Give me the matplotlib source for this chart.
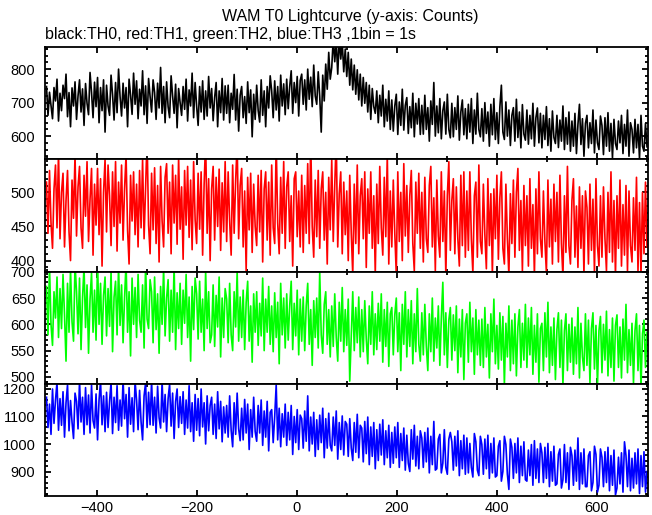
import numpy as np
import matplotlib
matplotlib.use("Agg")
import matplotlib.pyplot as plt
from matplotlib.ticker import MultipleLocator

# counts, one value every 3 s starting at T0-500 s
t_start = -500
t_step = 3

th0 = [
    748, 662, 731, 690, 652, 745, 705, 770, 645, 728,
    676, 752, 712, 785, 658, 730, 628, 744, 690, 762,
    650, 720, 768, 672, 741, 632, 757, 698, 664, 790,
    730, 655, 761, 688, 775, 640, 745, 676, 768, 612,
    752, 690, 662, 782, 724, 648, 760, 670, 800, 718,
    660, 758, 684, 745, 628, 770, 722, 665, 788, 695,
    765, 652, 740, 690, 795, 664, 750, 638, 772, 718,
    672, 768, 730, 650, 758, 684, 805, 668, 748, 640,
    762, 688, 655, 780, 720, 668, 755, 625, 742, 700,
    662, 748, 680, 770, 645, 738, 690, 788, 655, 760,
    690, 632, 748, 672, 765, 650, 735, 660, 778, 684,
    742, 646, 715, 760, 628, 735, 670, 772, 648, 750,
    668, 752, 640, 728, 680, 784, 648, 740, 615, 722,
    748, 655, 718, 638, 762, 670, 738, 598, 725, 650,
    752, 676, 642, 768, 662, 735, 628, 748, 684, 780,
    735, 655, 765, 678, 748, 645, 782, 690, 756, 664,
    770, 682, 748, 795, 668, 760, 700, 778, 660, 766,
    785, 695, 768, 678, 800, 710, 776, 688, 812, 720,
    695, 792, 718, 612, 782, 705, 815, 740, 850, 770,
    805, 890, 822, 885, 785, 895, 830, 880, 792, 860,
    778, 850, 752, 830, 738, 812, 725, 798, 708, 785,
    690, 775, 698, 760, 672, 752, 650, 742, 688, 668,
    735, 640, 722, 660, 752, 628, 710, 645, 735, 620,
    708, 615, 690, 725, 605, 702, 632, 740, 618, 692,
    715, 608, 688, 625, 728, 598, 698, 636, 712, 605,
    692, 606, 722, 620, 685, 585, 705, 635, 760, 600,
    690, 610, 712, 592, 676, 702, 606, 725, 620, 595,
    698, 598, 685, 620, 720, 588, 672, 708, 604, 682,
    592, 695, 612, 712, 578, 678, 606, 728, 620, 598,
    682, 585, 700, 608, 672, 570, 695, 604, 712, 590,
    670, 578, 688, 752, 612, 590, 702, 600, 678, 572,
    662, 685, 585, 710, 596, 672, 565, 694, 606, 588,
    678, 576, 662, 592, 698, 570, 655, 684, 580, 668,
    565, 662, 590, 688, 572, 652, 555, 675, 596, 578,
    662, 566, 648, 585, 690, 560, 655, 576, 672, 555,
    645, 570, 668, 548, 635, 695, 575, 652, 540, 638,
    662, 565, 640, 578, 678, 550, 648, 580, 560, 660,
    632, 545, 655, 570, 670, 555, 638, 535, 650, 578,
    560, 645, 580, 662, 548, 635, 570, 678, 540, 640,
    620, 550, 650, 565, 635, 532, 662, 570, 555, 638,
    568,
]

th1 = [
    515, 440, 532, 455, 418, 505, 540, 448, 560, 432,
    500, 528, 420, 488, 532, 442, 400, 518, 462, 555,
    436, 508, 538, 448, 418, 525, 465, 545, 428, 490,
    535, 408, 512, 452, 535, 438, 520, 392, 500, 548,
    442, 540, 495, 422, 530, 450, 545, 414, 515, 455,
    540, 430, 505, 555, 445, 395, 525, 458, 530, 438,
    512, 420, 532, 448, 548, 432, 508, 580, 452, 410,
    528, 445, 536, 425, 510, 398, 538, 458, 420, 522,
    542, 440, 515, 410, 540, 455, 525, 424, 552, 446,
    508, 402, 532, 452, 538, 434, 518, 416, 545, 460,
    425, 528, 446, 530, 408, 512, 575, 440, 520, 400,
    505, 538, 430, 522, 450, 534, 415, 514, 442, 545,
    428, 530, 458, 408, 540, 440, 518, 572, 432, 510,
    535, 420, 502, 385, 522, 445, 528, 412, 512, 450,
    422, 525, 442, 532, 398, 505, 530, 430, 515, 408,
    540, 448, 425, 575, 455, 410, 522, 440, 545, 418,
    508, 530, 428, 495, 392, 520, 530, 435, 502, 420,
    525, 412, 510, 440, 542, 425, 578, 450, 405, 518,
    435, 532, 418, 505, 530, 430, 500, 395, 522, 445,
    548, 428, 510, 580, 420, 498, 530, 410, 515, 438,
    502, 400, 525, 440, 380, 512, 425, 540, 410, 495,
    520, 432, 530, 390, 505, 440, 530, 418, 495, 380,
    512, 425, 538, 448, 408, 522, 435, 555, 395, 502,
    420, 518, 440, 380, 530, 428, 500, 400, 542, 436,
    510, 412, 495, 532, 425, 385, 515, 440, 528, 418,
    500, 398, 522, 432, 412, 510, 538, 420, 492, 385,
    518, 436, 405, 530, 428, 502, 378, 495, 545, 415,
    488, 520, 410, 508, 432, 392, 525, 422, 530, 405,
    502, 415, 530, 432, 382, 495, 515, 405, 540, 428,
    410, 512, 438, 388, 520, 422, 498, 380, 505, 432,
    525, 402, 492, 530, 418, 395, 512, 432, 378, 498,
    425, 518, 405, 500, 535, 415, 488, 385, 510, 422,
    495, 392, 520, 418, 482, 378, 505, 410, 530, 432,
    405, 502, 428, 382, 518, 420, 490, 395, 512, 428,
    500, 398, 525, 425, 376, 495, 412, 538, 422, 395,
    488, 520, 405, 480, 390, 508, 418, 495, 380, 502,
    478, 395, 512, 415, 490, 382, 520, 422, 392, 495,
    405, 508, 432, 385, 500, 412, 530, 398, 488, 378,
    495, 418, 518, 392, 482, 408, 510, 385, 502, 422,
    398, 492, 415, 522, 385, 485, 378, 500, 410, 515,
    420,
]

th2 = [
    672, 580, 712, 600, 560, 662, 612, 690, 575, 668,
    592, 695, 618, 530, 678, 585, 705, 605, 568, 715,
    662, 582, 688, 552, 650, 710, 594, 675, 545, 648,
    698, 585, 665, 570, 720, 600, 678, 562, 655, 690,
    578, 668, 596, 702, 548, 652, 682, 580, 712, 598,
    675, 565, 650, 718, 585, 662, 540, 688, 600, 670,
    575, 695, 608, 585, 675, 555, 715, 610, 592, 685,
    662, 565, 690, 590, 658, 545, 672, 600, 708, 578,
    650, 685, 568, 665, 585, 712, 552, 660, 592, 678,
    562, 665, 602, 695, 575, 652, 530, 672, 590, 688,
    658, 572, 682, 585, 648, 550, 702, 592, 662, 565,
    580, 675, 558, 655, 595, 690, 538, 650, 575, 668,
    648, 565, 678, 580, 550, 662, 595, 700, 568, 652,
    575, 665, 552, 642, 682, 568, 635, 528, 658, 585,
    662, 560, 640, 578, 688, 550, 648, 585, 672, 562,
    635, 548, 660, 575, 642, 525, 678, 580, 650, 555,
    658, 570, 635, 682, 552, 640, 578, 665, 542, 648,
    568, 652, 550, 635, 678, 562, 628, 522, 645, 575,
    650, 555, 700, 580, 545, 638, 662, 562, 628, 538,
    635, 558, 658, 575, 530, 642, 568, 670, 548, 628,
    560, 648, 492, 578, 662, 550, 632, 565, 652, 538,
    628, 548, 645, 572, 525, 635, 562, 662, 542, 620,
    552, 640, 568, 658, 528, 628, 558, 642, 520, 620,
    632, 542, 618, 650, 548, 622, 512, 638, 562, 662,
    538, 628, 558, 645, 525, 620, 548, 668, 562, 530,
    622, 542, 638, 558, 512, 620, 548, 650, 530, 612,
    555, 635, 522, 612, 680, 542, 622, 518, 608, 632,
    532, 618, 550, 635, 508, 610, 538, 628, 495, 602,
    620, 528, 642, 548, 612, 505, 628, 542, 608, 522,
    610, 518, 632, 538, 600, 498, 620, 548, 648, 525,
    598, 515, 622, 532, 615, 485, 602, 538, 635, 512,
    608, 525, 620, 502, 595, 628, 518, 602, 532, 638,
    518, 612, 542, 632, 505, 598, 528, 620, 490, 592,
    602, 512, 622, 538, 642, 508, 595, 522, 612, 495,
    590, 622, 518, 608, 485, 588, 620, 512, 600, 528,
    612, 505, 595, 525, 632, 498, 602, 538, 512, 620,
    522, 608, 488, 592, 622, 515, 598, 482, 588, 615,
    508, 600, 532, 625, 502, 590, 518, 612, 492, 598,
    618, 518, 595, 498, 610, 532, 638, 508, 590, 522,
    602, 488, 588, 620, 512, 598, 480, 582, 608, 518,
    585,
]

th3 = [
    1170, 1060, 1145, 1035, 1200, 1075, 1160, 1225, 1050, 1165,
    1068, 1190, 1025, 1150, 1215, 1048, 1158, 1080, 1020, 1185,
    1155, 1055, 1230, 1080, 1170, 1035, 1205, 1070, 1178, 1040,
    1215, 1085, 1058, 1182, 1015, 1160, 1230, 1070, 1175, 1045,
    1188, 1060, 1155, 1225, 1038, 1170, 1078, 1212, 1050, 1160,
    1065, 1235, 1092, 1180, 1025, 1205, 1072, 1168, 1045, 1228,
    1160, 1052, 1195, 1080, 1015, 1175, 1222, 1060, 1188, 1070,
    1230, 1068, 1170, 1040, 1210, 1095, 1058, 1228, 1080, 1180,
    1045, 1165, 1218, 1065, 1185, 1020, 1155, 1200, 1060, 1172,
    1075, 1190, 1035, 1160, 1058, 1212, 1045, 1150, 1010, 1180,
    1050, 1165, 1030, 1200, 1062, 1150, 1000, 1175, 1048, 1140,
    1170, 1035, 1145, 1020, 1190, 1055, 1155, 1008, 1135, 1040,
    1140, 1025, 1175, 1050, 990, 1150, 1035, 1185, 1055, 1012,
    1130, 1015, 1162, 1040, 1145, 980, 1125, 1025, 1170, 1045,
    1010, 1140, 1040, 1160, 995, 1120, 1025, 1155, 975, 1115,
    1125, 1005, 1100, 1215, 1015, 1130, 990, 1110, 1025, 1145,
    995, 1115, 1015, 1140, 962, 1100, 1005, 1125, 980, 1105,
    1092, 985, 1120, 1010, 1175, 975, 1098, 1000, 1115, 955,
    1088, 980, 1105, 1005, 1130, 950, 1092, 985, 1112, 995,
    975, 1098, 995, 1120, 945, 1078, 980, 1102, 960, 1082,
    1072, 955, 1092, 985, 940, 1078, 970, 1108, 950, 1068,
    1058, 935, 1082, 965, 1098, 925, 1062, 955, 1078, 910,
    1052, 940, 1072, 960, 1088, 925, 1048, 950, 1068, 915,
    1042, 930, 1062, 950, 1078, 915, 1038, 940, 1058, 905,
    1032, 930, 900, 1052, 945, 1068, 920, 1028, 910, 1048,
    1022, 915, 1042, 935, 1058, 895, 1028, 925, 1082, 905,
    910, 1018, 1035, 895, 930, 1052, 915, 890, 1018, 1042,
    1008, 905, 1028, 920, 1048, 885, 1012, 910, 1032, 890,
    1022, 895, 1002, 915, 880, 1038, 1008, 905, 885, 1028,
    998, 890, 1018, 910, 1032, 875, 1002, 895, 1022, 880,
    885, 992, 1012, 865, 900, 1028, 998, 890, 835, 1018,
    988, 875, 1002, 895, 1022, 860, 992, 885, 1008, 870,
    865, 978, 885, 998, 850, 1012, 875, 982, 860, 1002,
    968, 860, 988, 875, 1002, 845, 972, 865, 992, 850,
    855, 962, 982, 840, 870, 998, 860, 968, 835, 988,
    958, 850, 978, 865, 1022, 835, 968, 855, 982, 845,
    845, 958, 972, 830, 860, 992, 962, 825, 850, 982,
    952, 845, 972, 860, 988, 830, 958, 850, 978, 815,
    840, 952, 855, 968, 825, 1008, 958, 845, 978, 830,
    948, 840, 968, 855, 982, 820, 958, 845, 972, 825,
    900,
]

series = [th0, th1, th2, th3]
colors = ["black", "red", "#00ff00", "blue"]
ylims = [(531, 866), (384, 548.5), (487, 700.5), (811, 1219)]
ymajor = [100, 50, 50, 100]
yminor = [20, 10, 10, 20]


def main():
    plt.rcParams["font.family"] = ["Liberation Sans", "DejaVu Sans"]
    plt.rcParams["font.size"] = 10.5

    fig = plt.figure(figsize=(6.52, 5.15), dpi=100)

    left, right = 45 / 652, 648 / 652
    top, bottom = 1 - 47 / 515, 1 - 496 / 515
    h = (top - bottom) / 4

    for i, (vals, col) in enumerate(zip(series, colors)):
        ax = fig.add_axes([left, top - (i + 1) * h, right - left, h])
        x = t_start + t_step * np.arange(len(vals))
        ax.plot(x, vals, color=col, lw=1.2)
        ax.set_xlim(-503, 702)
        ax.set_ylim(*ylims[i])

        ax.xaxis.set_major_locator(MultipleLocator(200))
        ax.xaxis.set_minor_locator(MultipleLocator(100))
        ax.yaxis.set_major_locator(MultipleLocator(ymajor[i]))
        ax.yaxis.set_minor_locator(MultipleLocator(yminor[i]))
        ax.tick_params(which="both", direction="in", top=True, right=True,
                       width=1.3, colors="black")
        ax.tick_params(which="major", length=4.5)
        ax.tick_params(which="minor", length=2.5)
        ax.tick_params(axis="y", pad=7)
        ax.tick_params(axis="x", pad=3.5)
        for sp in ax.spines.values():
            sp.set_linewidth(1.3)
            sp.set_zorder(3)
        if i < 3:
            ax.tick_params(axis="x", labelbottom=False)

    fig.text(350 / 652, 1 - 17 / 515, "WAM T0 Lightcurve (y-axis: Counts)",
             ha="center", va="center", fontsize=11.5)
    fig.text(45 / 652, 1 - 35 / 515,
             "black:TH0, red:TH1, green:TH2, blue:TH3 ,1bin = 1s",
             ha="left", va="center", fontsize=11.5)

    fig.savefig("out.png", dpi=100)


if __name__ == "__main__":
    main()
